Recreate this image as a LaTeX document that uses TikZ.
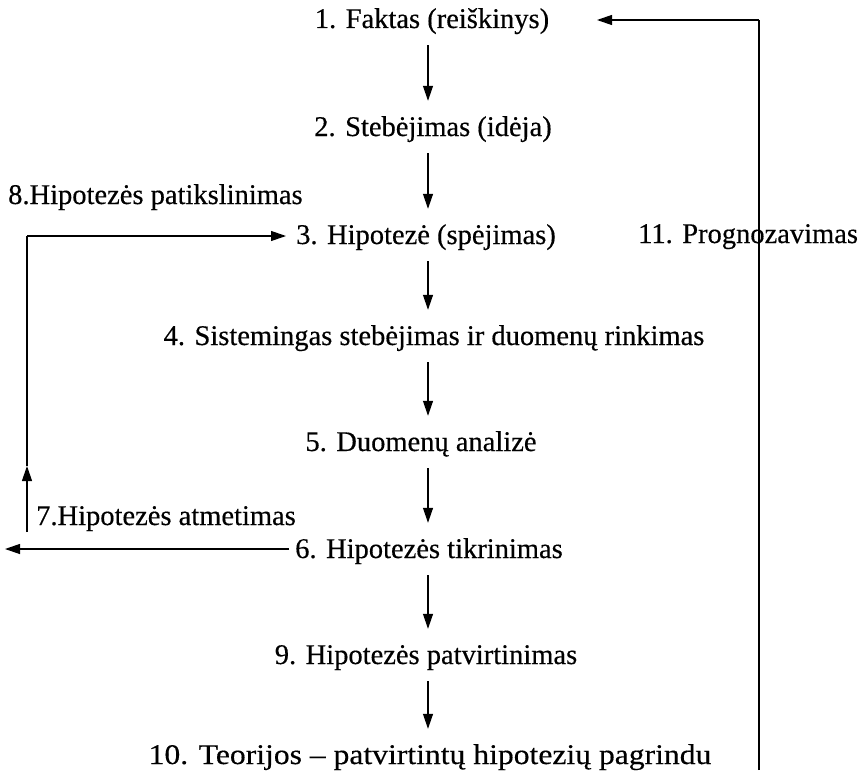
\documentclass[tikz,border=0pt]{standalone}
\usepackage{fontspec}
\setmainfont{Liberation Serif}[FakeBold=0.4]
\newfontfamily\wideserif{Liberation Serif}[FakeBold=0.4,FakeStretch=1.11]
\usetikzlibrary{arrows.meta}
\begin{document}
\begin{tikzpicture}[x=1pt,y=-1pt,
  every node/.style={font=\fontsize{28.5}{32}\selectfont, inner xsep=0pt, inner ysep=0pt, text height=19pt, text depth=6pt, anchor=base},
  wide/.style={font=\wideserif\fontsize{28.5}{32}\selectfont},
  arr/.style={line width=1.2pt, -{Triangle[length=15pt,width=10pt]}},
  ln/.style={line width=1.2pt},
  down/.style={arr, shorten <=11pt, shorten >=16pt}]
\useasboundingbox (0,0) rectangle (861,781);
\node (n1) at (432,28) {1. Faktas (reiškinys)};
\node (n2) at (433,136) {2. Stebėjimas (idėja)};
\node (n3) at (426,244) {3. Hipotezė (spėjimas)};
\node (n4) at (434,345) {4. Sistemingas stebėjimas ir duomenų rinkimas};
\node (n5) at (421,451) {5. Duomenų analizė};
\node (n6) at (429,558) {6. Hipotezės tikrinimas};
\node (n9) at (426,664) {9. Hipotezės patvirtinimas};
\node[wide] (n10) at (430,764) {10. Teorijos – patvirtintų hipotezių pagrindu};
\node[anchor=base west] (l8) at (8,204) {8.Hipotezės patikslinimas};
\node[anchor=base west] (l7) at (36,525) {7.Hipotezės atmetimas};
\node[anchor=base west] (l11) at (638,243) {11. Prognozavimas};
\coordinate (ax) at (428,0);
\draw[down] (n1.south -| ax) -- (n2.north -| ax);
\draw[down] (n2.south -| ax) -- (n3.north -| ax);
\draw[down] (n3.south -| ax) -- (n4.north -| ax);
\draw[down] (n4.south -| ax) -- (n5.north -| ax);
\draw[down] (n5.south -| ax) -- (n6.north -| ax);
\draw[down] (n6.south -| ax) -- (n9.north -| ax);
\draw[down] (n9.south -| ax) -- (n10.north -| ax);
% left loop
\coordinate (lb) at (27,532);
\coordinate (lm) at (27,466);
\coordinate (lt) at (27,236);
\coordinate (l3) at (286,236);
\draw[arr] (lb) -- (lm);
\draw[ln] (lm) -- (lt);
\draw[arr] (lt) -- (l3);
% rejection arrow
\coordinate (r6) at (289,549);
\coordinate (r6e) at (5,549);
\draw[arr] (r6) -- (r6e);
% right loop
\coordinate (rb) at (759,770);
\coordinate (rt) at (759,20);
\coordinate (r1) at (597,20);
\draw[ln] (rb) -- (rt);
\draw[arr] (rt) -- (r1);
\end{tikzpicture}
\end{document}
